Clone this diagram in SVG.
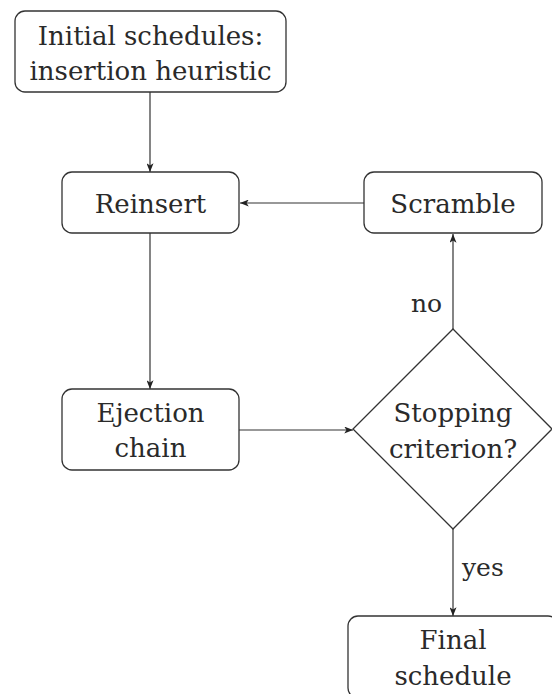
<svg xmlns="http://www.w3.org/2000/svg" width="552" height="694" viewBox="0 0 552 694">
<style>
.box{fill:#fff;stroke:#333;stroke-width:1.3}
.t{font-family:"DejaVu Serif","Liberation Serif",serif;font-size:26px;fill:#2a2a2a;text-anchor:middle}
.lbl{font-family:"DejaVu Serif","Liberation Serif",serif;font-size:25px;fill:#2a2a2a}
.edge{stroke:#333;stroke-width:1.2;fill:none;marker-end:url(#ah)}
</style>
<defs>
<marker id="ah" viewBox="0 0 10 8" refX="10" refY="4" markerWidth="9" markerHeight="7" markerUnits="userSpaceOnUse" orient="auto">
<path d="M0,0 L10,4 L0,8 L2.5,4 Z" fill="#222"/>
</marker>
</defs>
<rect width="552" height="694" fill="#fff"/>
<g id="edges">
<line class="edge" x1="150" y1="92" x2="150" y2="172"/>
<line class="edge" x1="364" y1="203" x2="240" y2="203"/>
<line class="edge" x1="150" y1="233" x2="150" y2="389"/>
<line class="edge" x1="239" y1="430" x2="353" y2="430"/>
<line class="edge" x1="453" y1="329" x2="453" y2="234"/>
<line class="edge" x1="453" y1="529" x2="453" y2="616"/>
<text class="lbl" x="411" y="312">no</text>
<text class="lbl" x="462" y="576">yes</text>
</g>
<g id="initial">
<rect class="box" x="15" y="11" width="271" height="81" rx="10"/>
<text class="t" x="150.5" y="45">Initial schedules:</text>
<text class="t" x="150.5" y="80">insertion heuristic</text>
</g>
<g id="reinsert">
<rect class="box" x="62" y="172" width="177" height="61" rx="10"/>
<text class="t" x="150.5" y="213">Reinsert</text>
</g>
<g id="scramble">
<rect class="box" x="364" y="172" width="178" height="61" rx="10"/>
<text class="t" x="453" y="213">Scramble</text>
</g>
<g id="ejection">
<rect class="box" x="62" y="389" width="177" height="81" rx="10"/>
<text class="t" x="150.5" y="422">Ejection</text>
<text class="t" x="150.5" y="457">chain</text>
</g>
<g id="stopping">
<polygon class="box" points="453,329 552,429 453,529 353,429"/>
<text class="t" x="453" y="422">Stopping</text>
<text class="t" x="453" y="458">criterion?</text>
</g>
<g id="final">
<rect class="box" x="348" y="616" width="210" height="82" rx="10"/>
<text class="t" x="453" y="649">Final</text>
<text class="t" x="453" y="685">schedule</text>
</g>
</svg>
